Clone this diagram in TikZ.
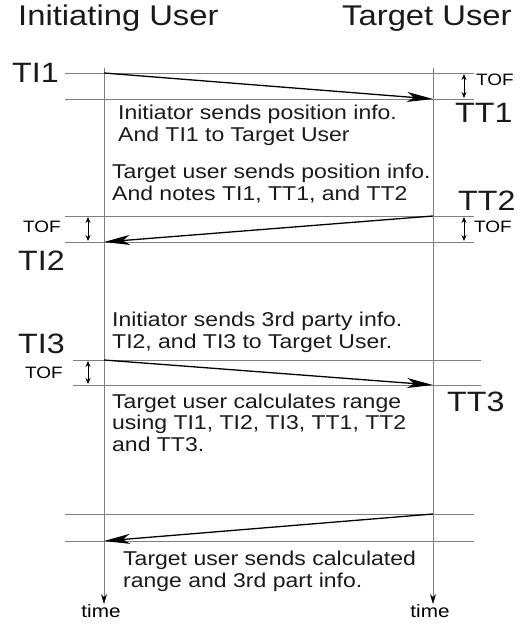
\documentclass[tikz,border=0pt]{standalone}
\usepackage{fontspec}
\setmainfont[FakeStretch=1.15]{Liberation Sans}
\usetikzlibrary{arrows.meta}
\definecolor{linegray}{HTML}{808080}
\definecolor{textdark}{HTML}{1A1A1A}
\begin{document}
\begin{tikzpicture}[x=1pt,y=-1pt,
  gridline/.style={draw=linegray, line width=0.9pt},
  msg/.style={draw=black, line width=1.3pt, -{Stealth[length=26pt,width=10pt,inset=7pt]}},
  tofarrow/.style={draw=black, line width=0.8pt, {Stealth[length=6pt,width=5pt]}-{Stealth[length=6pt,width=5pt]}},
  timeline/.style={draw=linegray, line width=0.9pt, -{Stealth[length=10pt,width=6pt,black]}},
  body/.style={inner sep=0pt, anchor=base west, align=left, font=\fontsize{20}{21.5}\selectfont, text=textdark},
  big/.style={inner sep=0pt, anchor=base west, font=\fontsize{28}{28}\selectfont, text=textdark},
  hdr/.style={inner sep=0pt, anchor=base west, font=\fontsize{28.5}{29}\selectfont, text=textdark},
  small/.style={inner sep=0pt, anchor=base west, font=\fontsize{16.5}{17}\selectfont, text=black},
  timelbl/.style={inner sep=0pt, anchor=base, font=\fontsize{18}{18}\selectfont, text=black}]
\useasboundingbox (0,0) rectangle (525,626);

% coordinates
\coordinate (L1a) at (65,73);  \coordinate (L1b) at (474,73);
\coordinate (L2a) at (65,99);  \coordinate (L2b) at (474,99);
\coordinate (L3a) at (65,216); \coordinate (L3b) at (474,216);
\coordinate (L4a) at (65,242); \coordinate (L4b) at (474,242);
\coordinate (L5a) at (73,360); \coordinate (L5b) at (481,360);
\coordinate (L6a) at (73,385); \coordinate (L6b) at (481,385);
\coordinate (L7a) at (65,514); \coordinate (L7b) at (474,514);
\coordinate (L8a) at (65,541); \coordinate (L8b) at (474,541);
\coordinate (Vtop) at (104,68); \coordinate (Vbot) at (104,604);
\coordinate (Wtop) at (433,68); \coordinate (Wbot) at (433,604);

\coordinate (TI1p) at (104,73);  \coordinate (TT1p) at (433,99);
\coordinate (TT2p) at (433,216); \coordinate (TI2p) at (104,242);
\coordinate (TI3p) at (104,360); \coordinate (TT3p) at (433,385);
\coordinate (TT4p) at (433,514); \coordinate (TI4p) at (104,541);

\coordinate (R1a) at (464,74);  \coordinate (R1b) at (464,98);
\coordinate (A2a) at (88,217);  \coordinate (A2b) at (88,241);
\coordinate (R2a) at (464,217); \coordinate (R2b) at (464,241);
\coordinate (A3a) at (88,361);  \coordinate (A3b) at (88,384);

% horizontal lines
\foreach \n in {1,...,8} { \draw[gridline] (L\n a) -- (L\n b); }
% time lines
\draw[timeline] (Vtop) -- (Vbot);
\draw[timeline] (Wtop) -- (Wbot);

% messages
\draw[msg] (TI1p) -- (TT1p);
\draw[msg] (TT2p) -- (TI2p);
\draw[msg] (TI3p) -- (TT3p);
\draw[msg] (TT4p) -- (TI4p);

% TOF arrows
\draw[tofarrow] (R1a) -- (R1b);
\draw[tofarrow] (A2a) -- (A2b);
\draw[tofarrow] (R2a) -- (R2b);
\draw[tofarrow] (A3a) -- (A3b);

% headers
\node[hdr] (hI) at (18,26) {Initiating User};
\node[hdr] (hT) at (342,26) {Target User};

% big labels
\node[big] (ti1) at (12,82) {TI1};
\node[big] (tt1) at (455,122) {TT1};
\node[big] (tt2) at (458,210) {TT2};
\node[big] (ti2) at (18,270) {TI2};
\node[big] (ti3) at (18,353) {TI3};
\node[big] (tt3) at (447,411) {TT3};

% TOF labels
\node[small] (tof1) at (476,85) {TOF};
\node[small] (tof2) at (23,232) {TOF};
\node[small] (tof3) at (474,232) {TOF};
\node[small] (tof4) at (25,378) {TOF};

% body texts (anchor = baseline of last line)
\node[body] (t1) at (118,141) {Initiator sends position info.\\And TI1 to Target User};
\node[body] (t2) at (112,200) {Target user sends position info.\\And notes TI1, TT1, and TT2};
\node[body] (t3) at (112,348) {Initiator sends 3rd party info.\\TI2, and TI3 to Target User.};
\node[body] (t4) at (112,451) {Target user calculates range\\using TI1, TI2, TI3, TT1, TT2\\and TT3.};
\node[body] (t5) at (123,587) {Target user sends calculated\\range and 3rd part info.};

% time labels
\node[timelbl] (time1) at (101,617) {time};
\node[timelbl] (time2) at (430,617) {time};
\end{tikzpicture}
\end{document}
